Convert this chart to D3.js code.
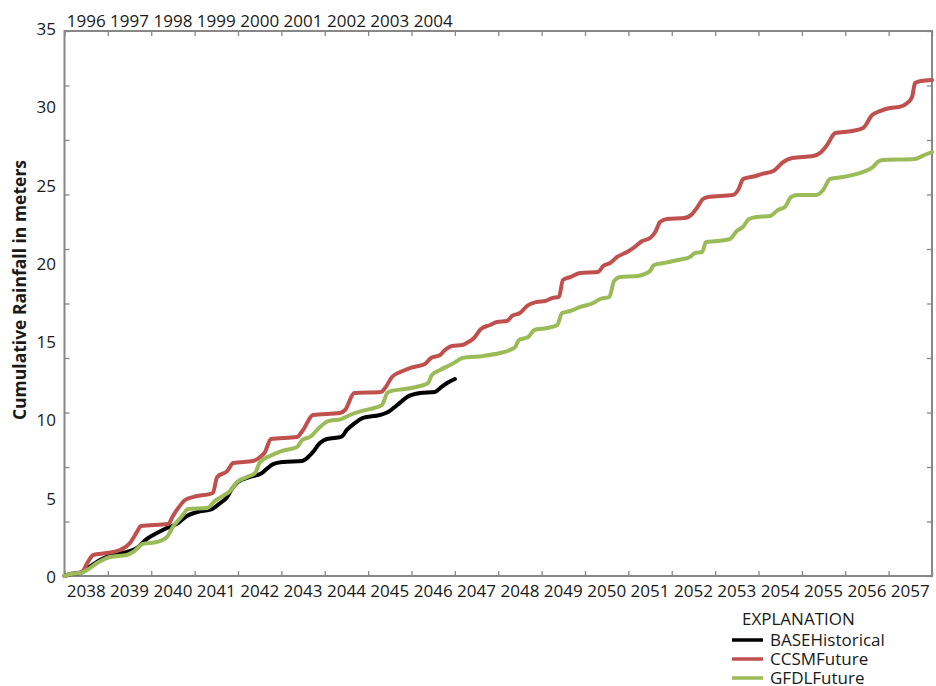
<!DOCTYPE html>
<html>
<head>
<meta charset="utf-8">
<script src="https://cdn.jsdelivr.net/npm/d3@7"></script>
<style>
  html, body { margin: 0; padding: 0; background: #fff; }
  svg { display: block; font-family: "Open Sans", "Noto Sans", sans-serif; }
</style>
</head>
<body>
<svg id="chart" width="936" height="686"></svg>
<script>
// Simulation years along the bottom, historical years along the top
const futureYears = [2038, 2039, 2040, 2041, 2042, 2043, 2044, 2045, 2046, 2047,
                     2048, 2049, 2050, 2051, 2052, 2053, 2054, 2055, 2056, 2057];
const historicalYears = [1996, 1997, 1998, 1999, 2000, 2001, 2002, 2003, 2004];
const yLabels = [0, 5, 10, 15, 20, 25, 30, 35];

// Cumulative rainfall (m) at decimal simulation year
const baseHistorical = [
  [2038.00, 0.00], [2038.13, 0.13], [2038.36, 0.19], [2038.54, 0.51], [2038.82, 1.03],
  [2039.10, 1.35], [2039.44, 1.54], [2039.67, 1.80], [2039.90, 2.38], [2040.13, 2.76],
  [2040.36, 3.08], [2040.62, 3.40], [2040.82, 3.85], [2041.06, 4.11], [2041.40, 4.30],
  [2041.56, 4.62], [2041.75, 5.07], [2041.86, 5.59], [2042.00, 6.04], [2042.28, 6.36],
  [2042.55, 6.61], [2042.69, 6.94], [2042.81, 7.19], [2043.04, 7.32], [2043.48, 7.39],
  [2043.71, 7.90], [2043.89, 8.54], [2044.05, 8.80], [2044.38, 8.93], [2044.51, 9.38],
  [2044.70, 9.83], [2044.88, 10.15], [2045.27, 10.34], [2045.46, 10.53], [2045.67, 10.98],
  [2045.90, 11.50], [2046.20, 11.75], [2046.54, 11.82], [2046.66, 12.07], [2046.82, 12.39],
  [2047.00, 12.65]
];

const ccsmFuture = [
  [2038.00, 0.00], [2038.17, 0.13], [2038.40, 0.26], [2038.54, 0.90], [2038.66, 1.35],
  [2038.98, 1.48], [2039.28, 1.67], [2039.51, 2.12], [2039.67, 2.83], [2039.76, 3.21],
  [2040.39, 3.34], [2040.50, 3.85], [2040.59, 4.24], [2040.78, 4.88], [2040.96, 5.07],
  [2041.42, 5.33], [2041.52, 6.36], [2041.75, 6.74], [2041.89, 7.26], [2042.35, 7.39],
  [2042.51, 7.64], [2042.62, 7.96], [2042.76, 8.80], [2043.36, 8.93], [2043.50, 9.38],
  [2043.73, 10.34], [2044.35, 10.47], [2044.47, 10.66], [2044.68, 11.75], [2045.30, 11.82],
  [2045.39, 12.07], [2045.55, 12.78], [2045.74, 13.10], [2045.97, 13.36], [2046.31, 13.62],
  [2046.45, 14.00], [2046.66, 14.19], [2046.77, 14.51], [2046.93, 14.77], [2047.17, 14.84],
  [2047.35, 15.09], [2047.44, 15.28], [2047.60, 15.86], [2047.81, 16.12], [2047.97, 16.31],
  [2048.20, 16.38], [2048.32, 16.70], [2048.50, 16.89], [2048.69, 17.40], [2048.89, 17.60],
  [2049.08, 17.66], [2049.24, 17.85], [2049.40, 17.92], [2049.49, 19.01], [2049.66, 19.20],
  [2049.89, 19.46], [2050.30, 19.52], [2050.42, 19.91], [2050.58, 20.10], [2050.74, 20.49],
  [2050.97, 20.81], [2051.11, 21.06], [2051.32, 21.51], [2051.50, 21.71], [2051.62, 22.09],
  [2051.73, 22.73], [2051.89, 22.93], [2052.29, 22.99], [2052.47, 23.25], [2052.58, 23.64],
  [2052.72, 24.21], [2052.84, 24.34], [2053.41, 24.47], [2053.53, 24.79], [2053.65, 25.50],
  [2053.94, 25.69], [2054.08, 25.82], [2054.34, 26.01], [2054.57, 26.59], [2054.78, 26.84],
  [2055.26, 26.97], [2055.42, 27.17], [2055.58, 27.68], [2055.77, 28.45], [2056.16, 28.58],
  [2056.41, 28.77], [2056.62, 29.61], [2056.80, 29.86], [2057.03, 30.06], [2057.24, 30.12],
  [2057.43, 30.38], [2057.54, 30.76], [2057.61, 31.66], [2057.75, 31.79], [2058.00, 31.85]
];

const gfdlFuture = [
  [2038.00, 0.00], [2038.13, 0.13], [2038.36, 0.19], [2038.52, 0.39], [2038.75, 0.83],
  [2039.05, 1.22], [2039.44, 1.35], [2039.58, 1.54], [2039.81, 2.06], [2040.13, 2.18],
  [2040.36, 2.50], [2040.50, 3.15], [2040.71, 3.85], [2040.85, 4.30], [2041.29, 4.37],
  [2041.47, 4.82], [2041.65, 5.14], [2041.82, 5.46], [2041.98, 6.04], [2042.21, 6.36],
  [2042.39, 6.61], [2042.51, 7.32], [2042.74, 7.71], [2043.02, 8.03], [2043.36, 8.28],
  [2043.48, 8.73], [2043.66, 8.93], [2043.89, 9.57], [2044.08, 9.95], [2044.38, 10.08],
  [2044.58, 10.34], [2044.86, 10.60], [2045.14, 10.79], [2045.32, 10.98], [2045.44, 11.75],
  [2045.53, 11.88], [2045.85, 12.01], [2046.20, 12.20], [2046.38, 12.39], [2046.47, 12.91],
  [2046.66, 13.23], [2046.89, 13.55], [2047.05, 13.81], [2047.17, 14.00], [2047.65, 14.13],
  [2048.04, 14.32], [2048.27, 14.51], [2048.39, 14.71], [2048.48, 15.16], [2048.69, 15.35],
  [2048.83, 15.80], [2049.13, 15.93], [2049.36, 16.12], [2049.47, 16.89], [2049.66, 17.02],
  [2049.89, 17.28], [2050.19, 17.53], [2050.35, 17.79], [2050.56, 17.92], [2050.67, 18.94],
  [2050.81, 19.20], [2051.22, 19.27], [2051.38, 19.40], [2051.50, 19.59], [2051.59, 19.97],
  [2051.82, 20.10], [2052.14, 20.29], [2052.42, 20.49], [2052.53, 20.74], [2052.70, 20.81],
  [2052.79, 21.45], [2053.04, 21.51], [2053.34, 21.64], [2053.50, 22.16], [2053.64, 22.41],
  [2053.78, 22.93], [2053.96, 23.06], [2054.27, 23.12], [2054.45, 23.51], [2054.61, 23.70],
  [2054.75, 24.34], [2054.91, 24.47], [2055.33, 24.47], [2055.49, 24.79], [2055.65, 25.50],
  [2055.95, 25.62], [2056.27, 25.82], [2056.41, 25.95], [2056.64, 26.27], [2056.75, 26.59],
  [2056.85, 26.72], [2057.61, 26.78], [2057.77, 26.97], [2058.00, 27.23]
];

const seriesNames = ["BASEHistorical", "CCSMFuture", "GFDLFuture"];
const seriesColors = ["#000000", "#C0504D", "#9BBB59"];
const seriesData = [baseHistorical, ccsmFuture, gfdlFuture];

const svg = d3.select("#chart");
const plotLeft = 64.5, plotRight = 932, plotTop = 31, plotBottom = 576;
const axisColor = "#878787";
const textColor = "#1a1a1a";
const labelSize = 17;

const x = d3.scaleLinear().domain([2038, 2058]).range([plotLeft, plotRight]);
const y = d3.scaleLinear().domain([0, 35]).range([plotBottom, plotTop]);

// Tick marks: one per year boundary on x, ten divisions on y, all pointing inward
const xTickVals = d3.range(2038, 2059);
const yTickVals = d3.range(0, 35.001, 3.5);

function styleAxis(g) {
  g.select(".domain").remove();
  g.selectAll(".tick line").attr("stroke", axisColor).attr("stroke-width", 1.3);
}

svg.append("g").attr("transform", `translate(0,${plotBottom})`)
  .call(d3.axisBottom(x).tickValues(xTickVals).tickSizeInner(-5).tickSizeOuter(0).tickFormat(""))
  .call(styleAxis);
svg.append("g").attr("transform", `translate(0,${plotTop})`)
  .call(d3.axisTop(x).tickValues(xTickVals).tickSizeInner(-5).tickSizeOuter(0).tickFormat(""))
  .call(styleAxis);
svg.append("g").attr("transform", `translate(${plotLeft},0)`)
  .call(d3.axisLeft(y).tickValues(yTickVals).tickSizeInner(-5).tickSizeOuter(0).tickFormat(""))
  .call(styleAxis);
svg.append("g").attr("transform", `translate(${plotRight},0)`)
  .call(d3.axisRight(y).tickValues(yTickVals).tickSizeInner(-5).tickSizeOuter(0).tickFormat(""))
  .call(styleAxis);

// Plot frame
svg.append("rect")
  .attr("x", plotLeft).attr("y", plotTop)
  .attr("width", plotRight - plotLeft).attr("height", plotBottom - plotTop)
  .attr("fill", "none").attr("stroke", axisColor).attr("stroke-width", 2);

// Category labels centred within each year
svg.append("g").selectAll("text").data(futureYears).join("text")
  .attr("x", d => x(d + 0.5)).attr("y", 597)
  .attr("text-anchor", "middle").attr("font-size", labelSize).attr("fill", textColor)
  .text(d => d);
svg.append("g").selectAll("text").data(historicalYears).join("text")
  .attr("x", (d, i) => x(futureYears[i] + 0.5)).attr("y", 27)
  .attr("text-anchor", "middle").attr("font-size", labelSize).attr("fill", textColor)
  .text(d => d);

// Value labels
svg.append("g").selectAll("text").data(yLabels).join("text")
  .attr("x", 56).attr("y", d => y(d) + 7 - d * 0.08)
  .attr("text-anchor", "end").attr("font-size", labelSize).attr("fill", textColor)
  .text(d => d);

// Axis title
svg.append("text")
  .attr("transform", "translate(26,290) rotate(-90)")
  .attr("text-anchor", "middle").attr("font-size", 17.5).attr("font-weight", "bold")
  .attr("fill", textColor)
  .text("Cumulative Rainfall in meters");

// Rainfall curves
const line = d3.line()
  .x(d => x(d[0])).y(d => y(d[1]))
  .curve(d3.curveMonotoneX);

svg.append("g").selectAll("path").data(seriesData).join("path")
  .attr("d", d => line(d))
  .attr("fill", "none")
  .attr("stroke", (d, i) => seriesColors[i])
  .attr("stroke-width", 4)
  .attr("stroke-linejoin", "round")
  .attr("stroke-linecap", "round");

// Legend
const legend = svg.append("g");
legend.append("text")
  .attr("x", 742).attr("y", 625)
  .attr("font-size", labelSize).attr("fill", textColor)
  .text("EXPLANATION");
const rows = legend.selectAll("g.row").data(seriesNames).join("g")
  .attr("class", "row")
  .attr("transform", (d, i) => `translate(0,${640 + i * 19})`);
rows.append("line")
  .attr("x1", 732).attr("x2", 763)
  .attr("stroke", (d, i) => seriesColors[i]).attr("stroke-width", 3.5);
rows.append("text")
  .attr("x", 770).attr("y", 6)
  .attr("font-size", labelSize).attr("fill", textColor)
  .text(d => d);
</script>
</body>
</html>
